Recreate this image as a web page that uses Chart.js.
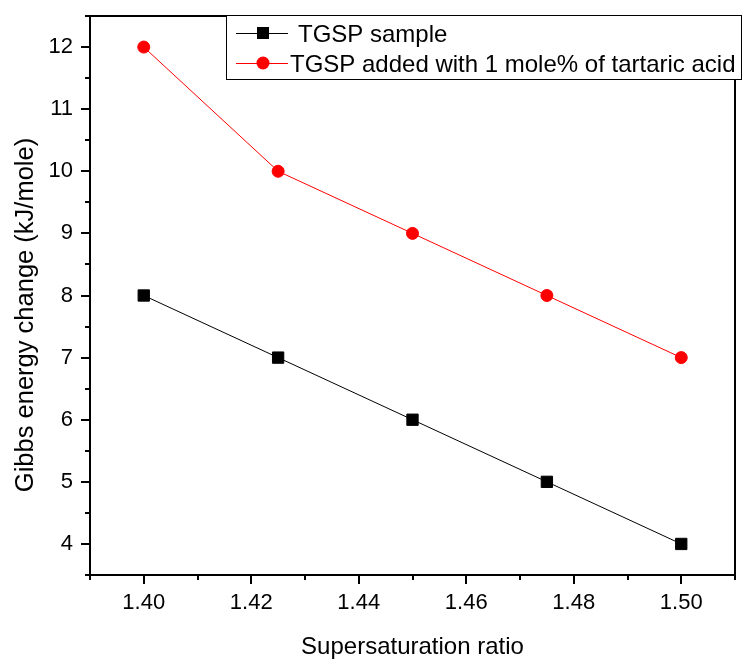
<!DOCTYPE html>
<html>
<head>
<meta charset="utf-8">
<script src="https://cdn.jsdelivr.net/npm/chart.js@4.4.1/dist/chart.umd.min.js"></script>
<style>
  html, body { margin: 0; padding: 0; background: #ffffff; }
  canvas { display: block; }
</style>
</head>
<body>
<canvas id="c" width="744" height="659"></canvas>
<script>
// ---- data ----
const supersaturation = [1.40, 1.425, 1.45, 1.475, 1.50];
const tgspSample = [8, 7, 6, 5, 4];
const tgspTartaric = [12, 10, 9, 8, 7];
const seriesLabels = ['TGSP sample', 'TGSP added with 1 mole% of tartaric acid'];
const xAxisTitle = 'Supersaturation ratio';
const yAxisTitle = 'Gibbs energy change (kJ/mole)';

const FONT = "'Liberation Sans', Arial, Helvetica, sans-serif";

function isMajorX(v) { return Math.round(v * 100) % 2 === 0; }
function isMajorY(v) { return Math.abs(v - Math.round(v)) < 1e-6; }

const framePlugin = {
  id: 'frame',
  afterDraw(chart) {
    const ctx = chart.ctx;
    const a = chart.chartArea;
    const xs = chart.scales.x, ys = chart.scales.y;
    ctx.save();
    ctx.strokeStyle = '#000';
    ctx.lineWidth = 2;
    // ticks
    ctx.beginPath();
    xs.ticks.forEach(t => {
      const px = Math.round(xs.getPixelForValue(t.value));
      const len = isMajorX(t.value) ? 9 : 5;
      ctx.moveTo(px, a.bottom);
      ctx.lineTo(px, a.bottom + len);
    });
    ys.ticks.forEach(t => {
      const py = Math.round(ys.getPixelForValue(t.value));
      const len = isMajorY(t.value) ? 9 : 5;
      ctx.moveTo(a.left, py);
      ctx.lineTo(a.left - len, py);
    });
    ctx.stroke();
    // box
    ctx.strokeRect(a.left, a.top, a.right - a.left, a.bottom - a.top);

    // y axis title
    ctx.save();
    ctx.fillStyle = '#000';
    ctx.font = '25.5px ' + FONT;
    ctx.translate(33, 315);
    ctx.rotate(-Math.PI / 2);
    ctx.textAlign = 'center';
    ctx.textBaseline = 'alphabetic';
    ctx.fillText(yAxisTitle, 0, 0);
    ctx.restore();

    // legend
    const lx = 226, ly = 15, lw = 515, lh = 64;
    ctx.fillStyle = '#fff';
    ctx.fillRect(lx, ly, lw, lh);
    ctx.lineWidth = 1;
    ctx.strokeStyle = '#000';
    ctx.strokeRect(lx + 0.5, ly + 0.5, lw, lh);

    const rows = [
      { y: 33, base: 41.5, tx: 298, color: '#000', style: 'rect', label: chart.data.datasets[0].label },
      { y: 63, base: 71.5, tx: 290, color: '#ff0000', style: 'circle', label: chart.data.datasets[1].label }
    ];
    rows.forEach(r => {
      ctx.strokeStyle = r.color;
      ctx.lineWidth = 1;
      ctx.beginPath();
      ctx.moveTo(236, r.y + 0.5);
      ctx.lineTo(288, r.y + 0.5);
      ctx.stroke();
      ctx.fillStyle = r.color;
      if (r.style === 'rect') {
        ctx.fillRect(257, r.y - 6, 12, 12);
      } else {
        ctx.beginPath();
        ctx.arc(263, r.y, 6.5, 0, Math.PI * 2);
        ctx.fill();
      }
      ctx.fillStyle = '#000';
      ctx.font = '24px ' + FONT;
      ctx.textAlign = 'left';
      ctx.textBaseline = 'alphabetic';
      ctx.fillText(r.label, r.tx, r.base);
    });
    ctx.restore();
  }
};

const chart = new Chart(document.getElementById('c'), {
  type: 'line',
  data: {
    datasets: [
      {
        label: seriesLabels[0],
        data: supersaturation.map((x, i) => ({ x: x, y: tgspSample[i] })),
        borderColor: '#000',
        backgroundColor: '#000',
        borderWidth: 1,
        pointStyle: 'rect',
        pointRadius: 8,
        pointBorderWidth: 1,
        pointBackgroundColor: '#000',
        pointBorderColor: '#000',
        tension: 0
      },
      {
        label: seriesLabels[1],
        data: supersaturation.map((x, i) => ({ x: x, y: tgspTartaric[i] })),
        borderColor: '#ff0000',
        backgroundColor: '#ff0000',
        borderWidth: 1,
        pointStyle: 'circle',
        pointRadius: 6,
        pointBorderWidth: 1,
        pointBackgroundColor: '#ff0000',
        pointBorderColor: '#ff0000',
        tension: 0
      }
    ]
  },
  options: {
    responsive: false,
    devicePixelRatio: 1,
    animation: false,
    events: [],
    layout: { padding: { left: 0, top: 16, right: 7, bottom: 0 } },
    plugins: {
      legend: { display: false },
      tooltip: { enabled: false }
    },
    scales: {
      x: {
        type: 'linear',
        min: 1.39,
        max: 1.51,
        afterFit(s) { s.height = 84; s.paddingLeft = 0; s.paddingRight = 0; },
        border: { display: false },
        grid: { display: true, drawOnChartArea: false, drawTicks: true, tickLength: 9, color: 'rgba(0,0,0,0)', tickColor: 'rgba(0,0,0,0)' },
        ticks: {
          stepSize: 0.01,
          autoSkip: false,
          maxRotation: 0,
          minRotation: 0,
          padding: 6,
          color: '#000',
          font: { family: FONT, size: 22 },
          callback: (v) => isMajorX(v) ? Number(v).toFixed(2) : ''
        },
        title: {
          display: true,
          text: xAxisTitle,
          color: '#000',
          font: { family: FONT, size: 24, lineHeight: 1 },
          padding: { top: 0, bottom: 0 }
        }
      },
      y: {
        type: 'linear',
        min: 3.5,
        max: 12.5,
        afterFit(s) { s.width = 90; s.paddingTop = 0; s.paddingBottom = 0; },
        border: { display: false },
        grid: { display: true, drawOnChartArea: false, drawTicks: true, tickLength: 9, color: 'rgba(0,0,0,0)', tickColor: 'rgba(0,0,0,0)' },
        ticks: {
          stepSize: 0.5,
          autoSkip: false,
          padding: 8,
          color: '#000',
          font: { family: FONT, size: 22 },
          callback: (v) => isMajorY(v) ? String(Math.round(v)) : ''
        }
      }
    }
  },
  plugins: [framePlugin]
});
</script>
</body>
</html>
